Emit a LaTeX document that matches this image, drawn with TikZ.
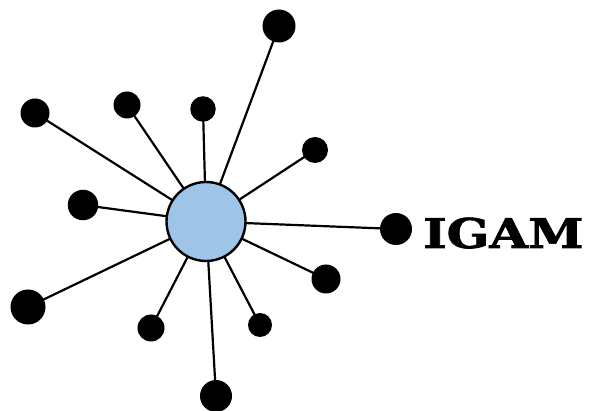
\documentclass[tikz,border=0pt]{standalone}
\usepackage{fontspec}
\newfontfamily\logofont[FakeBold=1.6]{DejaVu Serif Bold}
\definecolor{hubblue}{RGB}{158,196,231}
\tikzset{
  hub/.style={circle, draw=black, line width=2.4pt, fill=hubblue, minimum size=79pt, inner sep=0pt},
  leaf/.style={circle, fill=black, inner sep=0pt, minimum size=#1},
  spoke/.style={line width=2.2pt, black}
}
\begin{document}
\begin{tikzpicture}[x=1pt,y=-1pt]
\useasboundingbox (0,0) rectangle (589,411);
\node[leaf=33pt] (s1) at (279,26) {};
\node[leaf=29pt] (s2) at (35,113) {};
\node[leaf=27pt] (s3) at (127,105) {};
\node[leaf=25.5pt] (s4) at (203,109) {};
\node[leaf=26pt] (s5) at (315,150) {};
\node[leaf=30.5pt] (s6) at (83,205) {};
\node[leaf=32pt] (s7) at (396,229) {};
\node[leaf=29pt] (s8) at (326,279) {};
\node[leaf=35pt] (s9) at (28,307) {};
\node[leaf=27pt] (s10) at (151,328) {};
\node[leaf=24pt] (s11) at (260,325) {};
\node[leaf=32pt] (s12) at (216,396) {};
\foreach \i in {1,...,12} \draw[spoke] (s\i.center) -- (206,221.5);
\node[hub] (hub) at (206,221.5) {};
\node[anchor=base west, inner sep=0pt, xscale=1.22, font=\logofont\fontsize{41}{41}\selectfont] (label) at (423,248) {IGAM};
\end{tikzpicture}
\end{document}
